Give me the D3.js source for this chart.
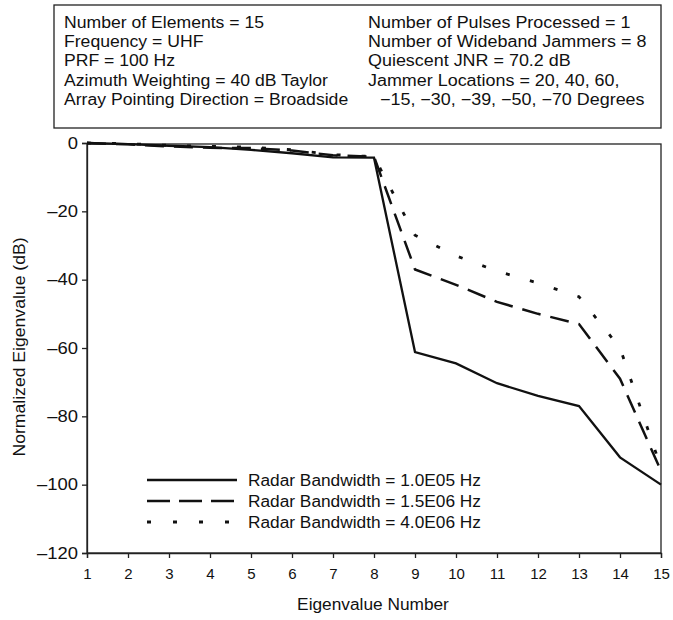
<!DOCTYPE html>
<html><head><meta charset="utf-8">
<script src="https://cdn.jsdelivr.net/npm/d3@7"></script>
<style>body{margin:0;background:#fff}svg{display:block}text{font-family:"Liberation Sans",Arial,Helvetica,sans-serif;fill:#111}</style>
</head><body>
<svg id="c" width="673" height="620"></svg>
<script>
const eigenNumbers = [1,2,3,4,5,6,7,8,9,10,11,12,13,14,15];
const bw1e5 = [0,-0.3,-0.8,-1.2,-2,-3,-4.2,-4.3,-61.2,-64.5,-70.3,-74,-77,-92,-100];
const bw15e6 = [0,-0.4,-1.0,-1.4,-1.5,-2.2,-3.6,-4.0,-37,-41.5,-46.5,-50,-53,-69,-96];
const bw4e6 = [0,-0.2,-0.7,-1.0,-1.2,-2.0,-3.4,-4.0,-27,-33,-37.5,-41,-45,-60,-95];
const seriesLabels = ["Radar Bandwidth = 1.0E05 Hz","Radar Bandwidth = 1.5E06 Hz","Radar Bandwidth = 4.0E06 Hz"];
const yTicks = [0,-20,-40,-60,-80,-100,-120];
const xTicks = [1,2,3,4,5,6,7,8,9,10,11,12,13,14,15];
const infoLeft = ["Number of Elements = 15","Frequency = UHF","PRF = 100 Hz","Azimuth Weighting = 40 dB Taylor","Array Pointing Direction = Broadside"];
const infoRight = ["Number of Pulses Processed = 1","Number of Wideband Jammers = 8","Quiescent JNR = 70.2 dB","Jammer Locations = 20, 40, 60,","\u221215, \u221230, \u221239, \u221250, \u221270 Degrees"];

const svg = d3.select("#c");
const L=87, R=661, T=143, B=553;
const x = d3.scaleLinear().domain([1,15]).range([L,R]);
const y = d3.scaleLinear().domain([0,-120]).range([T,B]);

function stretch(sel, f){
  sel.each(function(){
    const w = this.getComputedTextLength();
    d3.select(this).attr("textLength", w*f).attr("lengthAdjust","spacingAndGlyphs");
  });
}

// info box
svg.append("rect").attr("x",54).attr("y",5).attr("width",607).attr("height",123)
  .attr("fill","none").attr("stroke","#222").attr("stroke-width",1.3);
const lineGap = 19.2;
const tl = svg.append("g").selectAll("text").data(infoLeft).join("text")
  .attr("x",64).attr("y",(d,i)=>28+i*lineGap).attr("font-size",16).text(d=>d);
stretch(tl,1.1);
const rightX = [368,368,368,368,380];
const tr = svg.append("g").selectAll("text").data(infoRight).join("text")
  .attr("x",(d,i)=>rightX[i]).attr("y",(d,i)=>28+i*lineGap).attr("font-size",16).text(d=>d);
stretch(tr,1.12);

// plot frame
svg.append("rect").attr("x",L).attr("y",T+1).attr("width",R-L).attr("height",B-T-1)
  .attr("fill","none").attr("stroke","#222").attr("stroke-width",1.3);

const yAxis = svg.append("g").attr("transform",`translate(${L},0)`)
  .call(d3.axisLeft(y).tickValues(yTicks).tickSize(5).tickFormat(d=>d===0?"0":"\u2013"+Math.abs(d)));
const xAxis = svg.append("g").attr("transform",`translate(0,${B})`)
  .call(d3.axisBottom(x).tickValues(xTicks).tickSize(5).tickFormat(d3.format("d")));
[yAxis,xAxis].forEach(g=>{
  g.select(".domain").attr("stroke","#222").attr("stroke-width",1.3);
  g.selectAll(".tick line").attr("stroke","#222").attr("stroke-width",1.3);
  g.selectAll(".tick text").attr("font-family",null).attr("fill","#111");
});
yAxis.selectAll(".tick text").attr("x",-9).attr("font-size",16);
stretch(yAxis.selectAll(".tick text"),1.15);
xAxis.selectAll(".tick text").attr("y",15).attr("font-size",15);

const xl = svg.append("text").attr("x",373).attr("y",610).attr("text-anchor","middle").attr("font-size",16).text("Eigenvalue Number");
stretch(xl,1.08);
const yl = svg.append("text").attr("transform",`translate(25,347) rotate(-90)`).attr("text-anchor","middle").attr("font-size",16).text("Normalized Eigenvalue (dB)");
stretch(yl,1.1);

const series = [
  {vals:bw1e5, dash:null, w:2.3},
  {vals:bw15e6, dash:"19,10", w:2.5},
  {vals:bw4e6, dash:"4,21", w:2.8}
];
const line = d3.line().x((d,i)=>x(eigenNumbers[i])).y(d=>y(d));
series.forEach(s=>{
  svg.append("path").datum(s.vals).attr("d",line).attr("fill","none")
    .attr("stroke","#111").attr("stroke-width",s.w).attr("stroke-dasharray",s.dash);
});

// legend
const lg = svg.append("g");
series.forEach((s,i)=>{
  const ly = 480 + i*21;
  lg.append("line").attr("x1",147).attr("x2",237).attr("y1",ly).attr("y2",ly)
    .attr("stroke","#111").attr("stroke-width",s.w)
    .attr("stroke-dasharray", i===1 ? "23,9" : (i===2 ? "4,22" : null));
  const t = lg.append("text").attr("x",248).attr("y",ly+5.5).attr("font-size",16).text(seriesLabels[i]);
  stretch(t,1.08);
});
</script>
</body></html>
